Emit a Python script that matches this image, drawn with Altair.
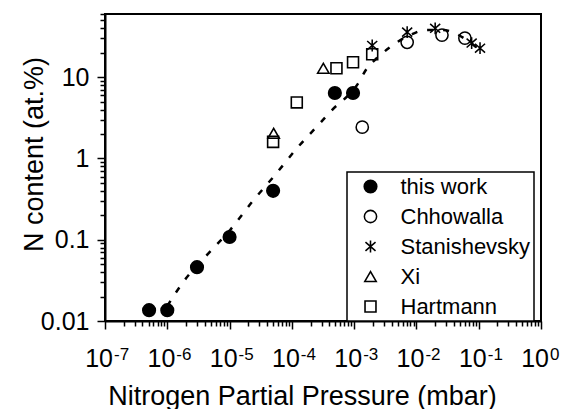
import altair as alt
import pandas as pd

# ---------------- data ----------------
series_names = ["this work", "Chhowalla", "Stanishevsky", "Xi", "Hartmann"]

this_work_x = [5.1e-7, 1.0e-6, 3.0e-6, 1.0e-5, 5.0e-5, 4.9e-4, 9.6e-4]
this_work_y = [0.0136, 0.0136, 0.046, 0.108, 0.40, 6.4, 6.4]

chhowalla_x = [1.35e-3, 7.1e-3, 0.0257, 0.060]
chhowalla_y = [2.43, 26.9, 33.0, 30.3]

stanishevsky_x = [1.95e-3, 7.1e-3, 0.020, 0.077, 0.105]
stanishevsky_y = [24.6, 35.9, 40.0, 26.3, 22.8]

xi_x = [5.1e-5, 3.2e-4]
xi_y = [2.04, 12.9]

hartmann_x = [5.0e-5, 1.2e-4, 5.2e-4, 9.6e-4, 1.95e-3]
hartmann_y = [1.6, 4.9, 12.9, 15.3, 19.2]

fit_x = [1.0e-6, 1.79e-6, 4.34e-6, 1.02e-5, 2.29e-5, 5.36e-5, 1.21e-4, 2.83e-4,
         4.41e-4, 1.11e-3, 1.61e-3, 2.42e-3, 3.76e-3, 7.87e-3, 0.0137, 0.0267,
         0.0416, 0.0648, 0.105]
fit_y = [0.0153, 0.030, 0.065, 0.132, 0.291, 0.625, 1.34, 2.72,
         3.94, 8.0, 12.9, 17.7, 23.4, 33.0, 38.0, 38.0,
         34.8, 28.6, 21.5]

x_exponents = [-7, -6, -5, -4, -3, -2, -1, 0]
x_base_label = "10"
y_major = [0.01, 0.1, 1, 10]
y_major_labels = ["0.01", "0.1", "1", "10"]

x_domain = [1e-7, 1.0]
y_domain = [0.01, 60]

# ---------------- tables ----------------
rows = []
for name, xs, ys in [
    ("this work", this_work_x, this_work_y),
    ("Chhowalla", chhowalla_x, chhowalla_y),
    ("Stanishevsky", stanishevsky_x, stanishevsky_y),
    ("Xi", xi_x, xi_y),
    ("Hartmann", hartmann_x, hartmann_y),
]:
    for xv, yv in zip(xs, ys):
        rows.append({"p": xv, "n": yv, "series": name})
pts = pd.DataFrame(rows)
fit = pd.DataFrame({"p": fit_x, "n": fit_y})
xlab = pd.DataFrame({"p": [10.0 ** e for e in x_exponents],
                     "base": [x_base_label] * len(x_exponents),
                     "exp": [("-" if e < 0 else "") + str(abs(e)) for e in x_exponents]})

x_major = [10.0 ** e for e in x_exponents]
x_minor = [m * 10.0 ** k for k in range(-7, 0) for m in range(2, 10)]
y_minor = [m * 10.0 ** k for k in range(-2, 2) for m in range(2, 10) if m * 10.0 ** k <= 60]

label_expr = " : ".join(
    f"abs(datum.value - {v}) < {v * 1e-6} ? '{s}'" for v, s in zip(y_major, y_major_labels)
) + " : ''"

FONT = "Liberation Sans"
asterisk = "M0,-1L0,1M-0.85,-0.75L0.85,0.75M-0.85,0.75L0.85,-0.75"

xscale = alt.Scale(type="log", domain=x_domain, nice=False)
yscale = alt.Scale(type="log", domain=y_domain, nice=False)

leg = dict(orient="none", legendX=242, legendY=158, title=None)

points = alt.Chart(pts).mark_point(stroke="black", opacity=1).encode(
    x=alt.X("p:Q", scale=xscale,
            axis=alt.Axis(values=x_major, labels=False, tickSize=8, orient="bottom",
                          title="Nitrogen Partial Pressure (mbar)",
                          titleX=197, titleY=83, titleBaseline="alphabetic",
                          titleFontSize=27, titleAlign="center")),
    y=alt.Y("n:Q", scale=yscale,
            axis=alt.Axis(values=y_major, labelExpr=label_expr, tickSize=8, orient="left",
                          labelFontSize=25, labelPadding=8,
                          title="N content (at.%)", titleX=-63, titleY=140,
                          titleAngle=270, titleBaseline="alphabetic",
                          titleAlign="center", titleFontSize=27)),
    shape=alt.Shape("series:N",
                    scale=alt.Scale(domain=series_names,
                                    range=["circle", "circle", asterisk, "triangle-up", "square"]),
                    legend=alt.Legend(**leg,
                                      labelFontSize=22, labelFont=FONT, labelColor="black",
                                      strokeColor="black", fillColor="white",
                                      padding=3.5, rowPadding=8, symbolOffset=9,
                                      labelOffset=19, symbolStrokeColor="black")),
    fill=alt.Fill("series:N",
                  scale=alt.Scale(domain=series_names,
                                  range=["black", "transparent", "transparent", "transparent", "transparent"]),
                  legend=alt.Legend(**leg)),
    size=alt.Size("series:N",
                  scale=alt.Scale(domain=series_names, range=[160, 120, 220, 330, 144]),
                  legend=alt.Legend(**leg)),
    strokeWidth=alt.StrokeWidth("series:N",
                                scale=alt.Scale(domain=series_names, range=[1.5, 1.6, 2.4, 1.8, 1.7]),
                                legend=alt.Legend(**leg)),
)

line = alt.Chart(fit).mark_line(color="black", strokeWidth=2.5, strokeDash=[6, 10],
                                interpolate="monotone").encode(
    x=alt.X("p:Q", scale=xscale,
            axis=alt.Axis(values=x_minor, labels=False, tickSize=5, domain=False,
                          orient="bottom", title=None)),
    y=alt.Y("n:Q", scale=yscale,
            axis=alt.Axis(values=y_minor, labels=False, tickSize=5, domain=False,
                          orient="left", title=None)),
)

base_text = alt.Chart(xlab).mark_text(align="right", baseline="alphabetic", dx=8,
                                      fontSize=25, font=FONT, color="black").encode(
    x=alt.X("p:Q", scale=xscale, axis=None),
    y=alt.value(353),
    text="base:N",
)
exp_text = alt.Chart(xlab).mark_text(align="left", baseline="alphabetic", dx=9,
                                     fontSize=17, font=FONT, color="black").encode(
    x=alt.X("p:Q", scale=xscale, axis=None),
    y=alt.value(346),
    text="exp:N",
)

chart = alt.layer(line, points, base_text, exp_text).resolve_axis(
    x="independent", y="independent"
).properties(
    width=436, height=307,
    autosize=alt.AutoSizeParams(type="none"),
    padding={"left": 105, "top": 14, "right": 28, "bottom": 88},
).configure_view(
    stroke="black", strokeWidth=2
).configure_axis(
    grid=False, domainColor="black", domainWidth=2, tickColor="black", tickWidth=1.5,
    labelFont=FONT, titleFont=FONT, labelColor="black", titleColor="black",
    titleFontWeight="normal"
).configure_legend(
    strokeWidth=1.5
)

chart.save("out.html", embed_options={"renderer": "svg", "actions": False})
